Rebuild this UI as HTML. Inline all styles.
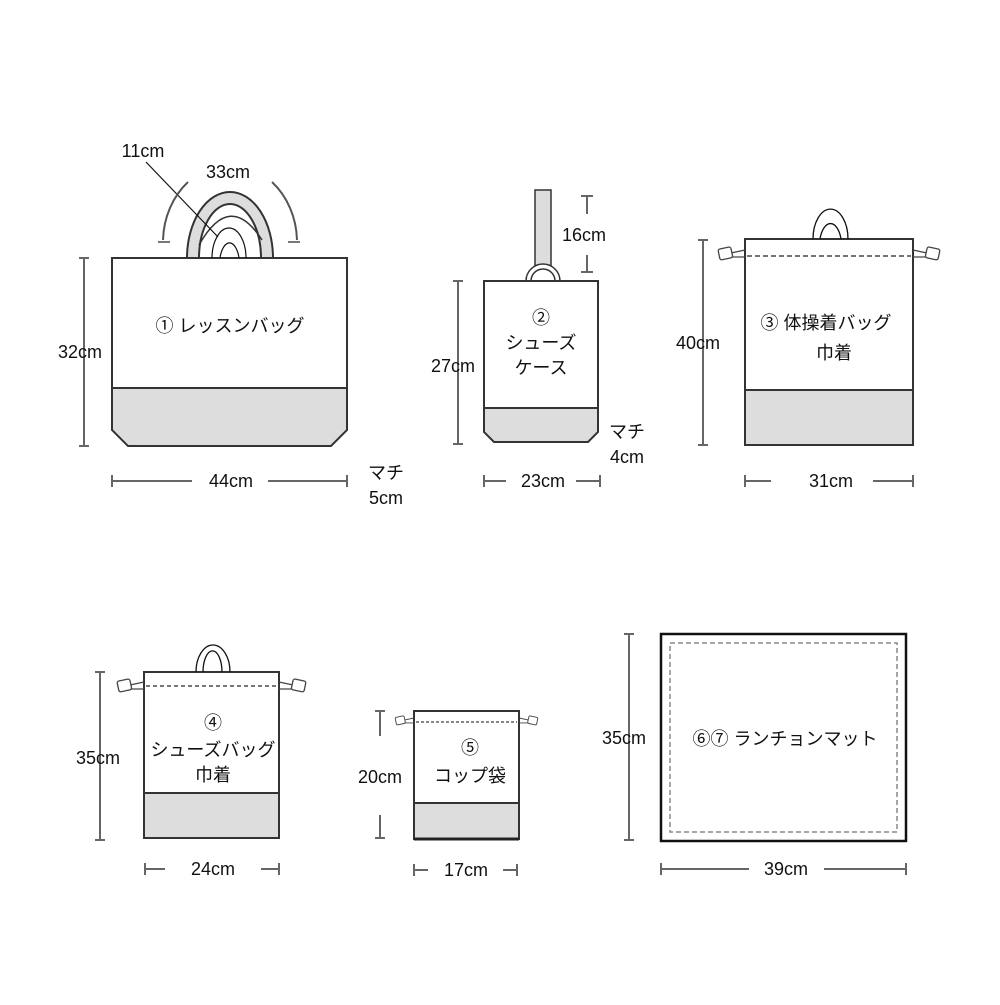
<!DOCTYPE html>
<html><head><meta charset="utf-8"><style>
html,body{margin:0;padding:0;background:#fff}
svg text{font-family:"Liberation Sans","Noto Sans CJK JP",sans-serif;fill:#111;font-size:18px}
</style></head><body>
<svg width="1000" height="1000" viewBox="0 0 1000 1000" xmlns="http://www.w3.org/2000/svg">
<defs>
<g id="cordL"><path d="M0,0 l-14,3 M0,7 l-14,0" stroke="#444" fill="none" stroke-width="1.3"/><rect x="-26" y="-2" width="13" height="11" rx="2" fill="#fff" stroke="#444" stroke-width="1.3" transform="rotate(-12 -20 4)"/></g>
</defs>
<g stroke="#444" stroke-width="2" fill="none">
<!-- Bag1 -->
<path d="M112,388 L347,388 L347,430 L331,446 L128,446 L112,430 Z" fill="#ddd" stroke="#333"/>
<rect x="112" y="258" width="235" height="130" fill="#fff" stroke="#333"/>
<path d="M187,258 A43,66 0 0 1 273,258 L261,258 A31,54 0 0 0 199,258 Z" fill="#ddd" stroke="#333"/>
<path d="M199,245 Q230,190 262,240" stroke="#333" stroke-width="1.5"/>
<path d="M212,258 A17,30 0 0 1 246,258 M220,258 A10,22 0 0 1 239,258" stroke="#111" stroke-width="1.2"/>
<line x1="146" y1="162" x2="218" y2="237" stroke="#111" stroke-width="1.2"/>
<path d="M163,240 A68,78 0 0 1 188,182 M297,240 A68,78 0 0 0 272,182" stroke="#555"/>
<path d="M158,242 h12 M288,242 h12" stroke="#777"/>
<path d="M84,258 v188 M79,258 h10 M79,446 h10" stroke="#666"/>
<path d="M112,481 h80 M268,481 h79 M112,475 v12 M347,475 v12" stroke="#666"/>
<!-- Bag2 -->
<rect x="535" y="190" width="16" height="80" fill="#ddd" stroke="#333" stroke-width="1.5"/>
<path d="M526,281 A17,17 0 0 1 560,281 Z" fill="#fff" stroke="#333" stroke-width="1.5"/>
<path d="M531,281 A12,12 0 0 1 555,281" stroke="#333" stroke-width="1.5"/>
<path d="M484,408 L598,408 L598,432 L588,442 L494,442 L484,432 Z" fill="#ddd" stroke="#333"/>
<rect x="484" y="281" width="114" height="127" fill="#fff" stroke="#333"/>
<path d="M587,196 v18 M581,196 h12 M587,255 v17 M581,272 h12" stroke="#666"/>
<path d="M458,281 v163 M453,281 h10 M453,444 h10" stroke="#666"/>
<path d="M484,481 h22 M576,481 h24 M484,475 v12 M600,475 v12" stroke="#666"/>
<!-- Bag3 -->
<rect x="745" y="390" width="168" height="55" fill="#ddd" stroke="#333"/>
<rect x="745" y="239" width="168" height="151" fill="#fff" stroke="#333"/>
<line x1="747" y1="256" x2="911" y2="256" stroke="#777" stroke-dasharray="5,3"/>
<path d="M813,239 A17,29 0 0 1 848,239 M820,239 A11,22 0 0 1 841,239" stroke="#111" stroke-width="1.3"/>
<path d="M703,240 v205 M698,240 h10 M698,445 h10" stroke="#666"/>
<path d="M745,481 h26 M873,481 h40 M745,475 v12 M913,475 v12" stroke="#666"/>
<!-- Bag4 -->
<rect x="144" y="793" width="135" height="45" fill="#ddd" stroke="#333"/>
<rect x="144" y="672" width="135" height="121" fill="#fff" stroke="#333"/>
<line x1="146" y1="686" x2="277" y2="686" stroke="#777" stroke-dasharray="4,3"/>
<path d="M196,672 A17,27 0 0 1 230,672 M203,672 A9,20 0 0 1 222,672" stroke="#111" stroke-width="1.3"/>
<path d="M100,672 v168 M95,672 h10 M95,840 h10" stroke="#666"/>
<path d="M145,869 h20 M261,869 h18 M145,863 v12 M279,863 v12" stroke="#666"/>
<!-- Bag5 -->
<rect x="414" y="803" width="105" height="36" fill="#ddd" stroke="#333"/>
<rect x="414" y="711" width="105" height="92" fill="#fff" stroke="#333"/>
<path d="M414,839 h105" stroke="#222" stroke-width="3"/>
<line x1="416" y1="722" x2="517" y2="722" stroke="#888" stroke-dasharray="3,2"/>
<path d="M380,711 v25 M375,711 h10 M380,815 v23 M375,838 h10" stroke="#666"/>
<path d="M414,870 h14 M503,870 h14 M414,864 v12 M517,864 v12" stroke="#666"/>
<!-- Mat -->
<rect x="661" y="634" width="245" height="207" fill="#fff" stroke="#111" stroke-width="2.5"/>
<rect x="670" y="643" width="227" height="189" stroke="#888" stroke-width="1.5" stroke-dasharray="5,3"/>
<path d="M629,634 v206 M624,634 h10 M624,840 h10" stroke="#666"/>
<path d="M661,869 h88 M824,869 h82 M661,863 v12 M906,863 v12" stroke="#666"/>
</g>
<use href="#cordL" x="745" y="250"/>
<use href="#cordL" x="913" y="250" transform="translate(1826,0) scale(-1,1)"/>
<use href="#cordL" x="144" y="682"/>
<use href="#cordL" x="279" y="682" transform="translate(558,0) scale(-1,1)"/>
<use href="#cordL" x="414" y="718" transform="translate(414,718) scale(0.7) translate(-414,-718)"/>
<use href="#cordL" x="519" y="718" transform="translate(519,718) scale(-0.7,0.7) translate(-519,-718)"/>
<g text-anchor="middle">
<text x="143" y="157">11cm</text>
<text x="228" y="178">33cm</text>
<text x="230" y="332">① レッスンバッグ</text>
<text x="80" y="358">32cm</text>
<text x="231" y="487">44cm</text>
<text x="386" y="479">マチ</text>
<text x="386" y="504">5cm</text>
<text x="584" y="241">16cm</text>
<text x="541" y="324">②</text>
<text x="541" y="349">シューズ</text>
<text x="541" y="374">ケース</text>
<text x="453" y="372">27cm</text>
<text x="543" y="487">23cm</text>
<text x="627" y="438">マチ</text>
<text x="627" y="463">4cm</text>
<text x="826" y="329">③ 体操着バッグ</text>
<text x="834" y="359">巾着</text>
<text x="698" y="349">40cm</text>
<text x="831" y="487">31cm</text>
<text x="213" y="729">④</text>
<text x="213" y="756">シューズバッグ</text>
<text x="213" y="781">巾着</text>
<text x="98" y="764">35cm</text>
<text x="213" y="875">24cm</text>
<text x="470" y="754">⑤</text>
<text x="470" y="782">コップ袋</text>
<text x="380" y="783">20cm</text>
<text x="466" y="876">17cm</text>
<text x="785" y="745">⑥⑦ ランチョンマット</text>
<text x="624" y="744">35cm</text>
<text x="786" y="875">39cm</text>
</g>
</svg>
</body></html>
